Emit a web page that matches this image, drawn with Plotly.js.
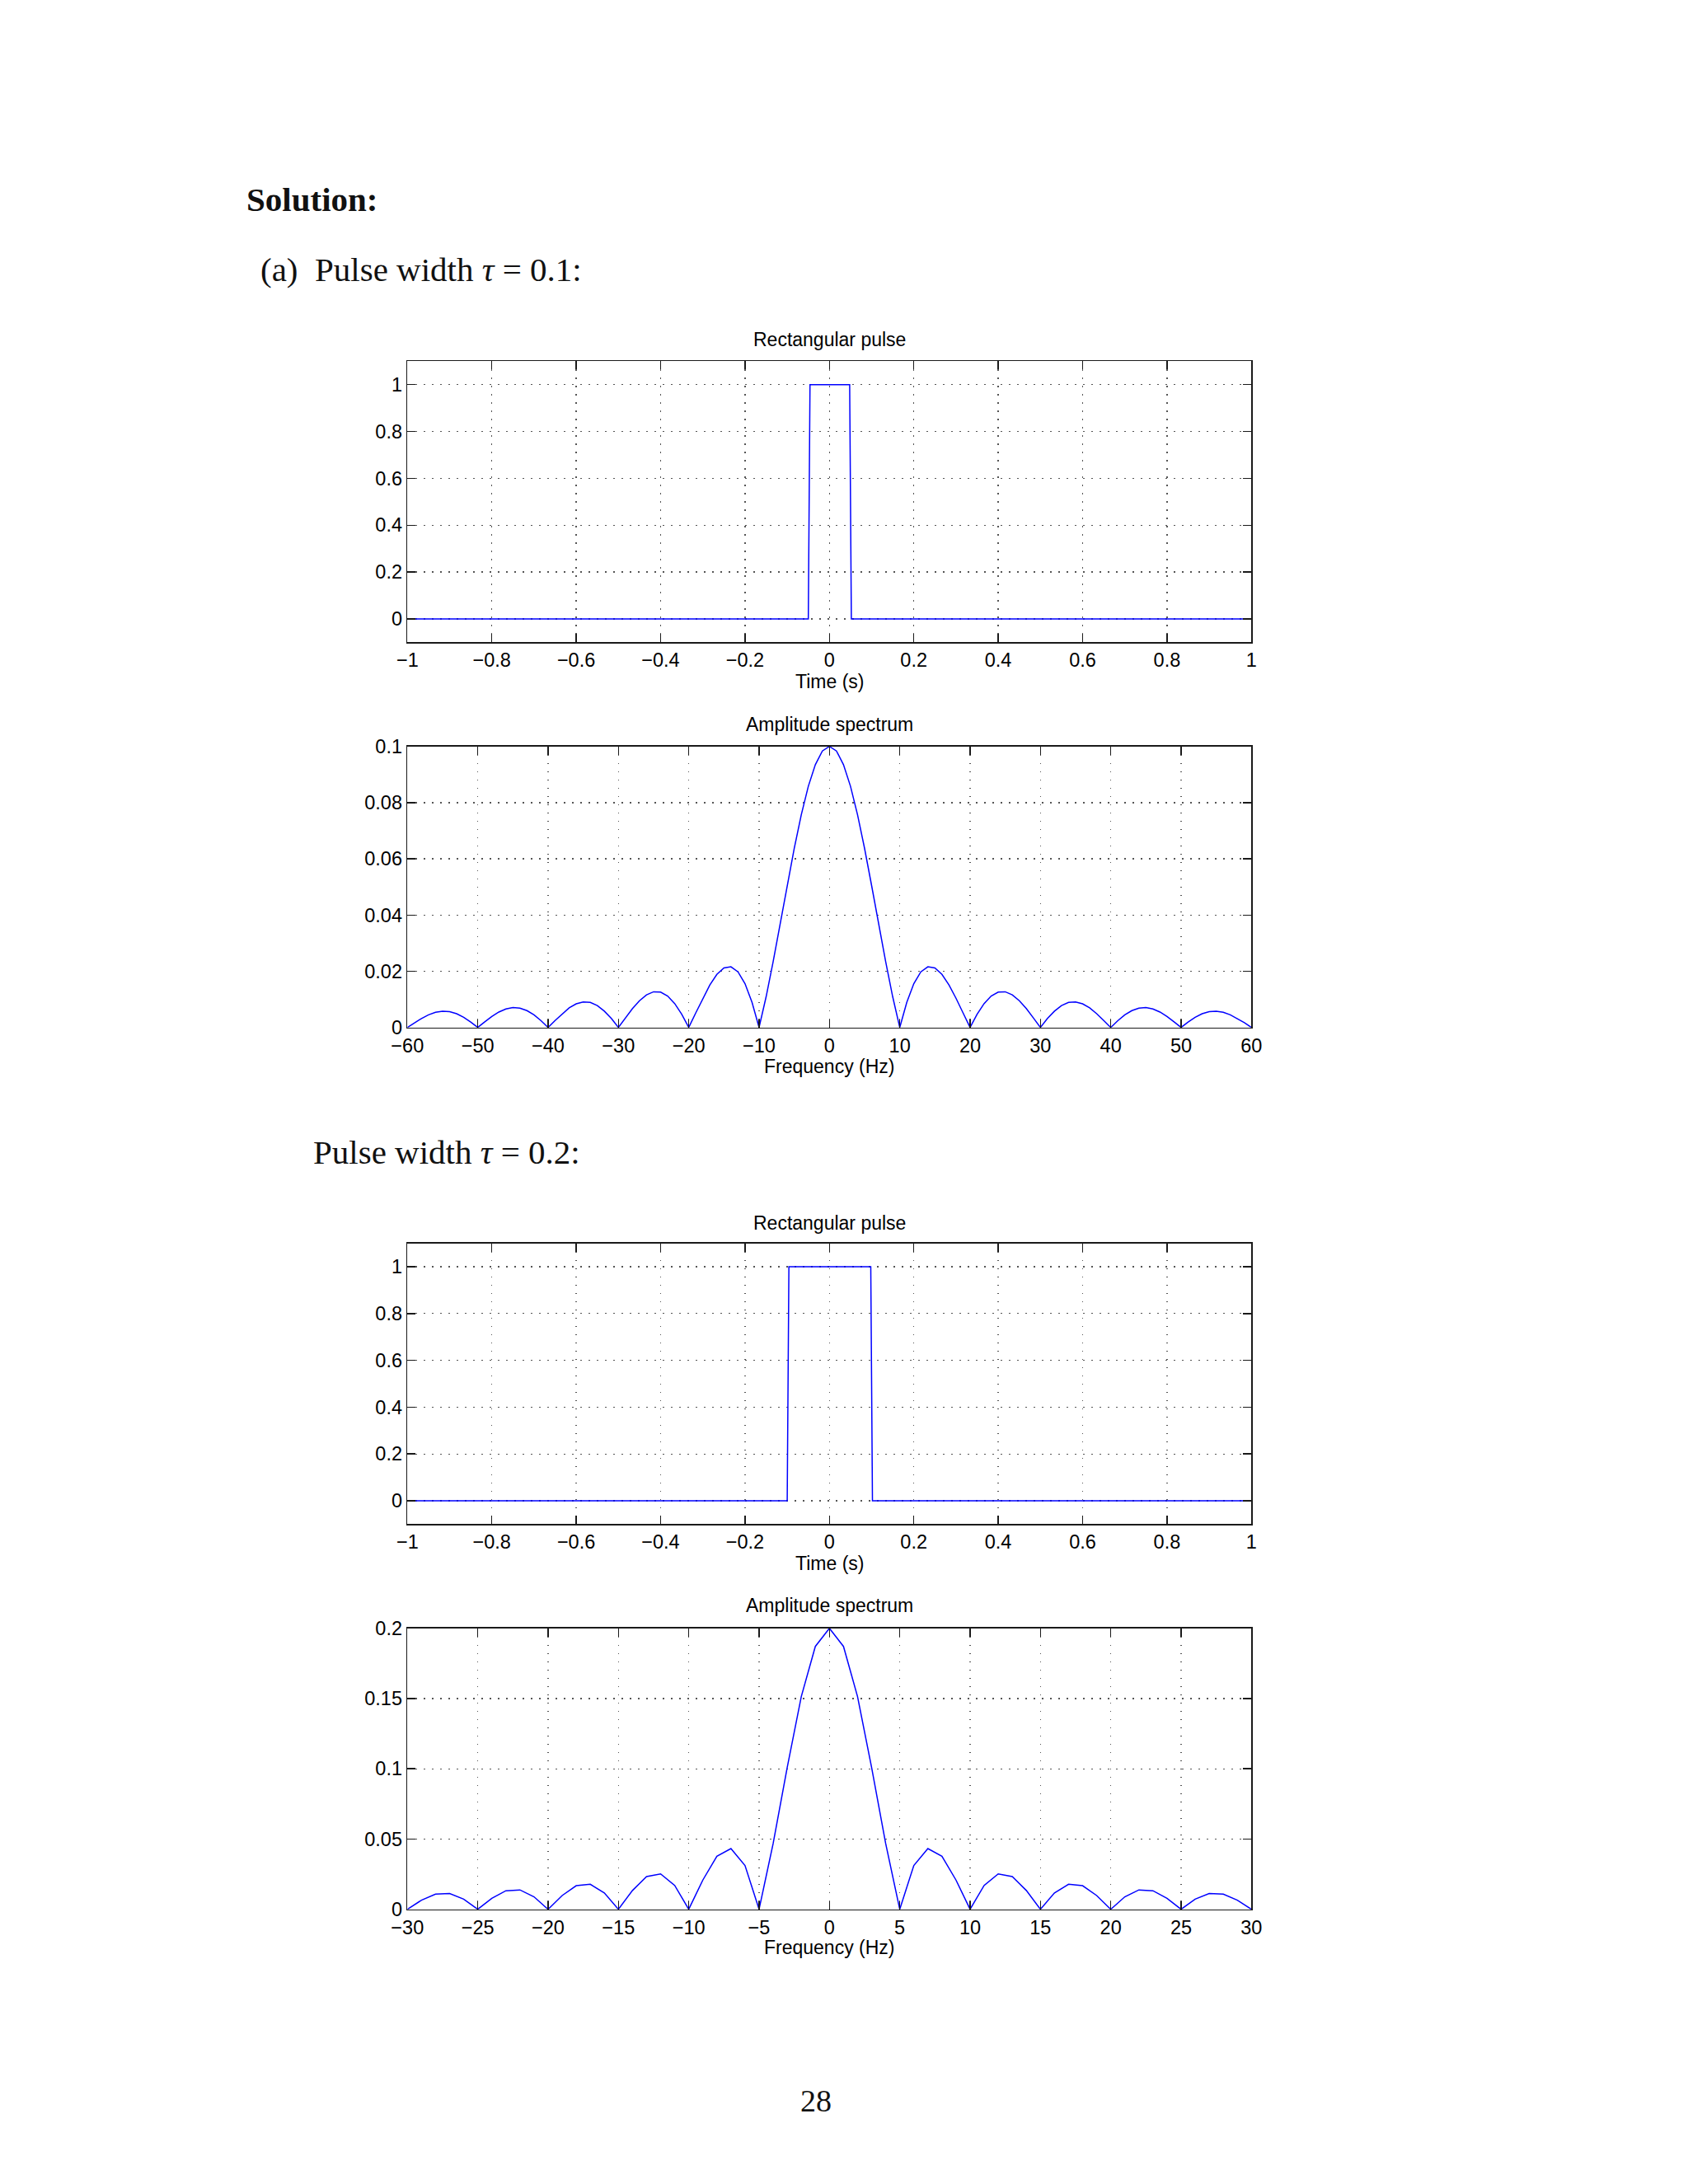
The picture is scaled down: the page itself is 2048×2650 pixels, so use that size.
<!DOCTYPE html>
<html>
<head>
<meta charset="utf-8">
<script src="https://cdn.plot.ly/plotly-3.0.1.min.js"></script>
<style>
  html, body { margin: 0; padding: 0; background: #ffffff; }
  #chart { width: 2048px; height: 2650px; }
</style>
</head>
<body>
<div id="chart"></div>
<script>
// ---------- data ----------
// (a) tau = 0.1 : rectangular pulse (time in s, amplitude)
var pulse1Time = [-1, -0.050, -0.046, 0.048, 0.052, 1];
var pulse1Amp  = [0, 0, 1, 1, 0, 0];

// (a) tau = 0.1 : amplitude spectrum, frequency in Hz
var spec1Freq = [-60,-59,-58,-57,-56,-55,-54,-53,-52,-51,-50,-49,-48,-47,-46,-45,-44,-43,-42,-41,
  -40,-39,-38,-37,-36,-35,-34,-33,-32,-31,-30,-29,-28,-27,-26,-25,-24,-23,-22,-21,
  -20,-19,-18,-17,-16,-15,-14,-13,-12,-11,-10,-9,-8,-7,-6,-5,-4,-3,-2,-1,
  0,1,2,3,4,5,6,7,8,9,10,11,12,13,14,15,16,17,18,19,
  20,21,22,23,24,25,26,27,28,29,30,31,32,33,34,35,36,37,38,39,
  40,41,42,43,44,45,46,47,48,49,50,51,52,53,54,55,56,57,58,59,60];
var spec1Amp = [0,0.0017,0.0032,0.0045,0.0054,0.0058,0.0056,0.0049,0.0036,0.0019,
  0,0.0020,0.0039,0.0055,0.0066,0.0071,0.0069,0.0060,0.0045,0.0024,
  0,0.0025,0.0049,0.0070,0.0084,0.0091,0.0089,0.0078,0.0058,0.0032,
  0,0.0034,0.0067,0.0095,0.0116,0.0127,0.0126,0.0112,0.0085,0.0047,
  0,0.0052,0.0104,0.0151,0.0189,0.0212,0.0216,0.0198,0.0156,0.0089,
  0,0.0109,0.0234,0.0368,0.0505,0.0637,0.0757,0.0858,0.0935,0.0984,
  0.1,
  0.0984,0.0935,0.0858,0.0757,0.0637,0.0505,0.0368,0.0234,0.0109,0,
  0.0089,0.0156,0.0198,0.0216,0.0212,0.0189,0.0151,0.0104,0.0052,0,
  0.0047,0.0085,0.0112,0.0126,0.0127,0.0116,0.0095,0.0067,0.0034,0,
  0.0032,0.0058,0.0078,0.0089,0.0091,0.0084,0.0070,0.0049,0.0025,0,
  0.0024,0.0045,0.0060,0.0069,0.0071,0.0066,0.0055,0.0039,0.0020,0,
  0.0019,0.0036,0.0049,0.0056,0.0058,0.0054,0.0045,0.0032,0.0017,0];

// tau = 0.2 : rectangular pulse
var pulse2Time = [-1, -0.100, -0.096, 0.098, 0.102, 1];
var pulse2Amp  = [0, 0, 1, 1, 0, 0];

// tau = 0.2 : amplitude spectrum
var spec2Freq = [-30,-29,-28,-27,-26,-25,-24,-23,-22,-21,-20,-19,-18,-17,-16,-15,-14,-13,-12,-11,
  -10,-9,-8,-7,-6,-5,-4,-3,-2,-1,0,1,2,3,4,5,6,7,8,9,10,
  11,12,13,14,15,16,17,18,19,20,21,22,23,24,25,26,27,28,29,30];
var spec2Amp = [0,0.0065,0.0108,0.0112,0.0072,0,0.0078,0.0132,0.0138,0.0089,
  0,0.0098,0.0168,0.0178,0.0117,0,0.0134,0.0233,0.0252,0.0170,
  0,0.0208,0.0378,0.0432,0.0312,0,0.0468,0.1009,0.1514,0.1871,
  0.2,
  0.1871,0.1514,0.1009,0.0468,0,0.0312,0.0432,0.0378,0.0208,0,
  0.0170,0.0252,0.0233,0.0134,0,0.0117,0.0178,0.0168,0.0098,0,
  0.0089,0.0138,0.0132,0.0078,0,0.0072,0.0112,0.0108,0.0065,0];

// text
var plotTitles = ["Rectangular pulse", "Amplitude spectrum", "Rectangular pulse", "Amplitude spectrum"];
var xTitles = ["Time (s)", "Frequency (Hz)", "Time (s)", "Frequency (Hz)"];

// ---------- layout helpers ----------
var W = 2048, H = 2650;
function px(v) { return v / W; }
function py(v) { return 1 - v / H; }

var xL = 494.3, xR = 1518.3;
var boxes = [ [438.3, 779.3], [905.7, 1246.7], [1508.7, 1849.3], [1975.7, 2316.7] ];
var titleY = [412, 879, 1484, 1948];
var xTitleY = [827, 1294, 1897, 2363];

var lineColor = '#0000ff';
var traces = [
  {x: pulse1Time, y: pulse1Amp, xaxis: 'x', yaxis: 'y'},
  {x: spec1Freq, y: spec1Amp, xaxis: 'x2', yaxis: 'y2'},
  {x: pulse2Time, y: pulse2Amp, xaxis: 'x3', yaxis: 'y3'},
  {x: spec2Freq, y: spec2Amp, xaxis: 'x4', yaxis: 'y4'}
].map(function (t) {
  t.type = 'scatter'; t.mode = 'lines';
  t.line = {color: lineColor, width: 1.5};
  t.hoverinfo = 'skip'; t.showlegend = false;
  return t;
});

var tickFont = {family: 'Liberation Sans, Arial, sans-serif', size: 23.5, color: '#000'};
function axis(extra) {
  var a = {
    showline: true, linecolor: '#1a1a1a', linewidth: 1.6, mirror: 'allticks',
    ticks: 'inside', ticklen: 10, tickwidth: 1.4, tickcolor: '#1a1a1a',
    showgrid: true, gridcolor: '#555555', gridwidth: 1.3, griddash: '1.5px,8.5px',
    zeroline: false, tickfont: tickFont, fixedrange: true, tickmode: 'linear'
  };
  for (var k in extra) a[k] = extra[k];
  return a;
}

var xr = [px(xL), px(xR)];
var layout = {
  width: W, height: H, autosize: false,
  margin: {l: 0, r: 0, t: 0, b: 0},
  paper_bgcolor: '#ffffff', plot_bgcolor: '#ffffff',
  xaxis:  axis({domain: xr, anchor: 'y',  range: [-1, 1],   tick0: -1, dtick: 0.2}),
  yaxis:  axis({domain: [py(boxes[0][1]), py(boxes[0][0])], anchor: 'x',  range: [-0.1, 1.1], tick0: 0, dtick: 0.2}),
  xaxis2: axis({domain: xr, anchor: 'y2', range: [-60, 60], tick0: -60, dtick: 10}),
  yaxis2: axis({domain: [py(boxes[1][1]), py(boxes[1][0])], anchor: 'x2', range: [0, 0.1], tick0: 0, dtick: 0.02}),
  xaxis3: axis({domain: xr, anchor: 'y3', range: [-1, 1],   tick0: -1, dtick: 0.2}),
  yaxis3: axis({domain: [py(boxes[2][1]), py(boxes[2][0])], anchor: 'x3', range: [-0.1, 1.1], tick0: 0, dtick: 0.2}),
  xaxis4: axis({domain: xr, anchor: 'y4', range: [-30, 30], tick0: -30, dtick: 5}),
  yaxis4: axis({domain: [py(boxes[3][1]), py(boxes[3][0])], anchor: 'x4', range: [0, 0.2], tick0: 0, dtick: 0.05}),
  annotations: []
};

var cx = px((xL + xR) / 2);
var labelFont = {family: 'Liberation Sans, Arial, sans-serif', size: 23, color: '#000'};
for (var i = 0; i < 4; i++) {
  layout.annotations.push({xref: 'paper', yref: 'paper', x: cx, y: py(titleY[i]),
    xanchor: 'center', yanchor: 'middle', showarrow: false, text: plotTitles[i], font: labelFont});
  layout.annotations.push({xref: 'paper', yref: 'paper', x: cx, y: py(xTitleY[i]),
    xanchor: 'center', yanchor: 'middle', showarrow: false, text: xTitles[i], font: labelFont});
}

var serif = 'Liberation Serif, Times New Roman, serif';
layout.annotations.push({xref: 'paper', yref: 'paper', x: px(297), y: py(242), xanchor: 'left', yanchor: 'middle',
  showarrow: false, text: '<b>Solution:</b>', font: {family: serif, size: 41, color: '#111'}});
layout.annotations.push({xref: 'paper', yref: 'paper', x: px(314), y: py(327), xanchor: 'left', yanchor: 'middle',
  showarrow: false, text: '(a)  Pulse width <i>τ</i> = 0.1:', font: {family: serif, size: 41, color: '#111'}});
layout.annotations.push({xref: 'paper', yref: 'paper', x: px(378), y: py(1398), xanchor: 'left', yanchor: 'middle',
  showarrow: false, text: 'Pulse width <i>τ</i> = 0.2:', font: {family: serif, size: 41, color: '#111'}});
layout.annotations.push({xref: 'paper', yref: 'paper', x: px(990), y: py(2549), xanchor: 'center', yanchor: 'middle',
  showarrow: false, text: '28', font: {family: serif, size: 38, color: '#111'}});

Plotly.newPlot('chart', traces, layout, {staticPlot: true, displayModeBar: false});
</script>
</body>
</html>
